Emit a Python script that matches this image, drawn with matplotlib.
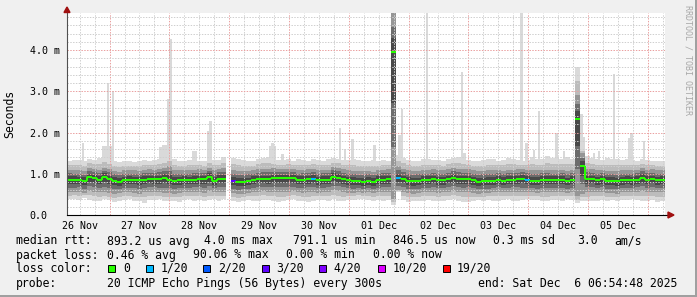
import numpy as np
import matplotlib
matplotlib.use('Agg')
import matplotlib.pyplot as plt
from matplotlib.patches import Polygon, Rectangle
from datetime import datetime, timedelta

# ---------------- data (2 hour bins, ms) ----------------
nan = np.nan
start = datetime(2025, 11, 26, 6, 54, 48)
day_labels = ['26 Nov', '27 Nov', '28 Nov', '29 Nov', '30 Nov',
              '01 Dec', '02 Dec', '03 Dec', '04 Dec', '05 Dec']

median_ms = [
    0.86, 0.85, 0.85, 0.83, 0.92, 0.90, 0.85, 0.93, 0.87, 0.83, 0.80, 0.85,
    0.85, 0.85, 0.85, 0.86, 0.87, 0.87, 0.87, 0.90, 0.86, 0.83, 0.84, 0.85,
    0.85, 0.86, 0.87, 0.87, 0.93, 0.83, 0.88, 0.88, nan, 0.83, 0.81, 0.81,
    0.82, 0.85, 0.87, 0.87, 0.87, 0.89, 0.89, 0.89, 0.89, 0.89, 0.85, 0.86,
    0.87, 0.88, 0.84, 0.86, 0.86, 0.93, 0.90, 0.87, 0.84, 0.83, 0.82, 0.81,
    0.83, 0.81, 0.85, 0.86, 0.87, 3.95, 0.90, 0.87, 0.83, 0.82, 0.82, 0.85,
    0.85, 0.87, 0.84, 0.84, 0.87, 0.90, 0.87, 0.87, 0.87, 0.84, 0.81, 0.82,
    0.83, 0.83, 0.86, 0.83, 0.86, 0.86, 0.87, 0.88, 0.86, 0.83, 0.83, 0.86,
    0.85, 0.85, 0.85, 0.86, 0.82, 0.86, 2.32, 1.19, 0.87, 0.87, 0.84, 0.87,
    0.83, 0.83, 0.82, 0.84, 0.85, 0.84, 0.86, 0.90, 0.86, 0.87, 0.84, 0.85]

loss = [0] * 120
loss[33] = 3
loss[49] = 1
loss[66] = 1
loss[92] = 1

smoke_lo = [
    0.38, 0.40, 0.36, 0.42, 0.37, 0.35, 0.33, 0.38, 0.36, 0.31, 0.34, 0.36,
    0.38, 0.35, 0.33, 0.30, 0.36, 0.37, 0.39, 0.33, 0.35, 0.34, 0.32, 0.36,
    0.38, 0.35, 0.37, 0.34, 0.36, 0.39, 0.35, 0.38, nan, 0.33, 0.31, 0.34,
    0.36, 0.35, 0.33, 0.37, 0.36, 0.34, 0.31, 0.33, 0.36, 0.38, 0.35, 0.33,
    0.32, 0.35, 0.37, 0.36, 0.34, 0.38, 0.35, 0.33, 0.36, 0.37, 0.40, 0.38,
    0.36, 0.34, 0.37, 0.35, 0.36, 0.25, 0.55, 0.37, 0.32, 0.33, 0.33, 0.35,
    0.36, 0.34, 0.33, 0.35, 0.37, 0.38, 0.35, 0.32, 0.32, 0.34, 0.36, 0.35,
    0.37, 0.35, 0.33, 0.36, 0.38, 0.35, 0.34, 0.36, 0.38, 0.37, 0.36, 0.33,
    0.34, 0.36, 0.37, 0.35, 0.38, 0.37, 0.30, 0.35, 0.33, 0.34, 0.35, 0.37,
    0.34, 0.36, 0.35, 0.36, 0.37, 0.38, 0.36, 0.35, 0.34, 0.36, 0.31, 0.33]

smoke_hi = [
    1.32, 1.34, 1.33, 1.30, 1.36, 1.34, 1.38, 1.40, 1.37, 1.30, 1.28, 1.30,
    1.31, 1.29, 1.30, 1.33, 1.32, 1.34, 1.36, 1.38, 1.45, 1.35, 1.32, 1.30,
    1.33, 1.35, 1.31, 1.30, 1.36, 1.34, 1.33, 1.40, nan, 1.38, 1.35, 1.33,
    1.32, 1.30, 1.36, 1.38, 1.40, 1.36, 1.33, 1.34, 1.36, 1.32, 1.35, 1.33,
    1.31, 1.37, 1.34, 1.32, 1.35, 1.38, 1.36, 1.34, 1.33, 1.35, 1.34, 1.32,
    1.31, 1.33, 1.30, 1.34, 1.32, 4.90, 1.45, 1.38, 1.33, 1.30, 1.32, 1.35,
    1.36, 1.33, 1.34, 1.30, 1.35, 1.38, 1.40, 1.36, 1.34, 1.32, 1.30, 1.33,
    1.35, 1.36, 1.32, 1.34, 1.38, 1.36, 1.33, 1.30, 1.34, 1.40, 1.36, 1.35,
    1.42, 1.38, 1.37, 1.36, 1.40, 1.36, 3.60, 1.60, 1.42, 1.38, 1.36, 1.34,
    1.38, 1.36, 1.35, 1.33, 1.36, 1.34, 1.32, 1.35, 1.33, 1.31, 1.30, 1.30]

mid_lo = [
    0.56, 0.55, 0.57, 0.54, 0.58, 0.57, 0.55, 0.56, 0.53, 0.52, 0.54, 0.55,
    0.56, 0.54, 0.52, 0.55, 0.57, 0.56, 0.55, 0.53, 0.54, 0.52, 0.54, 0.56,
    0.55, 0.57, 0.56, 0.54, 0.58, 0.55, 0.57, 0.56, nan, 0.53, 0.51, 0.52,
    0.54, 0.56, 0.57, 0.58, 0.56, 0.57, 0.55, 0.56, 0.57, 0.58, 0.55, 0.54,
    0.56, 0.57, 0.54, 0.55, 0.57, 0.60, 0.58, 0.56, 0.54, 0.53, 0.55, 0.54,
    0.55, 0.53, 0.56, 0.57, 0.56, 0.40, 0.60, 0.57, 0.54, 0.52, 0.53, 0.55,
    0.56, 0.57, 0.54, 0.55, 0.57, 0.58, 0.56, 0.55, 0.56, 0.54, 0.52, 0.53,
    0.54, 0.55, 0.57, 0.55, 0.56, 0.57, 0.56, 0.55, 0.56, 0.55, 0.54, 0.56,
    0.55, 0.56, 0.55, 0.56, 0.53, 0.55, 0.45, 0.50, 0.56, 0.57, 0.55, 0.56,
    0.54, 0.53, 0.52, 0.55, 0.56, 0.55, 0.57, 0.58, 0.56, 0.57, 0.55, 0.55]

mid_hi = [
    1.10, 1.09, 1.08, 1.06, 1.14, 1.12, 1.10, 1.15, 1.12, 1.07, 1.05, 1.08,
    1.09, 1.08, 1.07, 1.10, 1.11, 1.10, 1.12, 1.14, 1.18, 1.10, 1.08, 1.09,
    1.08, 1.10, 1.11, 1.10, 1.15, 1.08, 1.12, 1.13, nan, 1.10, 1.07, 1.06,
    1.07, 1.09, 1.11, 1.12, 1.12, 1.13, 1.12, 1.11, 1.12, 1.12, 1.09, 1.10,
    1.11, 1.12, 1.08, 1.10, 1.10, 1.16, 1.14, 1.11, 1.08, 1.07, 1.06, 1.06,
    1.07, 1.05, 1.09, 1.10, 1.11, 4.90, 1.18, 1.12, 1.08, 1.06, 1.07, 1.09,
    1.09, 1.11, 1.08, 1.09, 1.11, 1.14, 1.12, 1.11, 1.11, 1.08, 1.06, 1.07,
    1.08, 1.08, 1.10, 1.07, 1.10, 1.10, 1.11, 1.12, 1.10, 1.08, 1.08, 1.10,
    1.10, 1.09, 1.09, 1.10, 1.07, 1.10, 2.90, 1.50, 1.12, 1.11, 1.08, 1.10,
    1.07, 1.07, 1.06, 1.08, 1.09, 1.08, 1.10, 1.14, 1.10, 1.11, 1.08, 1.09]

# single hour maxima sticking out of the smoke (hour index from start, ms)
spike_hour = [6, 14, 15, 16, 17, 18, 37, 38, 39, 40, 41, 50, 51, 56, 57,
              81, 82, 83, 86, 109, 111, 114, 123, 133, 134, 144, 158, 159,
              182, 184, 187, 189, 196, 199, 204, 205, 206, 207, 211, 213,
              219, 225, 226, 231]
spike_ms = [1.75, 1.67, 1.67, 3.20, 1.67, 3.00, 1.65, 1.70, 1.70, 2.82, 4.27, 1.55, 1.55, 2.04, 2.28,
            1.67, 1.75, 1.67, 1.48, 2.10, 1.60, 1.84, 1.70, 1.94, 2.57, 4.90, 3.47, 1.50,
            4.90, 1.75, 1.57, 2.52, 2.00, 1.55, 3.60, 3.27, 2.45, 1.90, 1.50, 1.55,
            3.42, 1.87, 2.00, 1.80]

loss_colors = {0: '#26ff00', 1: '#00b8ff', 2: '#0059ff', 3: '#5e00ff',
               4: '#7e00ff', 10: '#dd00ff', 19: '#ff0000'}
loss_labels = ['0', '1/20', '2/20', '3/20', '4/20', '10/20', '19/20']

# ---------------- figure ----------------
W, H = 697, 297
MONO = 'DejaVu Sans Mono'
plt.rcParams['font.family'] = MONO

def fx(x):
    return x / W

def fy(y):
    return 1 - y / H

fig = plt.figure(figsize=(W / 100, H / 100), dpi=100, facecolor='#f0f0f0')
ax = fig.add_axes([fx(67), fy(215), (665 - 67) / W, (215 - 13) / H])
ax.set_facecolor('white')
for s in ax.spines.values():
    s.set_visible(False)
ax.set_xlim(0, 240)
ax.set_ylim(0, 4.9)

med = np.array(median_ms)
slo, shi = np.array(smoke_lo), np.array(smoke_hi)
mlo, mhi = np.array(mid_lo), np.array(mid_hi)
t0 = np.arange(len(med)) * 2.0
ok = ~np.isnan(med)

# light spikes (max ping), standing on the smoke
sh = np.array(spike_hour)
base = mhi[sh // 2]
ax.bar(sh, np.array(spike_ms) - base, bottom=base, width=1, align='edge',
       color='#d9d9d9', linewidth=0, antialiased=False, zorder=1)

# smoke, outer to inner
levels = [
    (slo, shi, '#dadada'),
    ((slo + mlo) / 2, (shi + mhi) / 2, '#bcbcbc'),
    (mlo, mhi, '#969696'),
    (mlo + 0.35 * (med - mlo), mhi + 0.35 * (med - mhi), '#6c6c6c'),
    (mlo + 0.65 * (med - mlo), mhi + 0.65 * (med - mhi), '#484848'),
]
for lo, hi, c in levels:
    ax.bar(t0[ok], (hi - lo)[ok], bottom=lo[ok], width=2, align='edge',
           color=c, linewidth=0, antialiased=False, zorder=2)

# grid (dotted, drawn over the smoke)
first_midnight = (datetime(2025, 11, 27) - start).total_seconds() / 3600
for h in np.arange(first_midnight - 24, 240, 6):
    if h <= 0:
        continue
    major = abs((h - first_midnight) % 24) < 1e-6
    ax.axvline(h, color='#eaa0a0' if major else '#cfcfcf', lw=0.72,
               ls=(0, (1.4, 1.4)), zorder=3)
for v in np.arange(0.2, 4.85, 0.2):
    major = abs(v - round(v)) < 1e-6
    ax.axhline(v, color='#eaa0a0' if major else '#cfcfcf', lw=0.72,
               ls=(0, (1.4, 1.4)), zorder=3)

# median line coloured by loss
cols = [loss_colors[l] for l in loss]
ax.hlines(med[ok], t0[ok], t0[ok] + 2, colors=[c for c, k in zip(cols, ok) if k],
          lw=1.45, zorder=4)
for i in range(1, len(med)):
    if ok[i] and ok[i - 1] and abs(med[i] - med[i - 1]) < 0.5:
        ax.vlines(t0[i], med[i - 1], med[i], color=cols[i], lw=1.45, zorder=4)

# ticks
noon = [(datetime(2025, 11, 26, 12) + timedelta(days=d) - start).total_seconds() / 3600
        for d in range(len(day_labels))]
ax.set_xticks(noon)
ax.set_xticklabels(day_labels, fontsize=7.2, family=MONO)
ax.set_yticks([0, 1, 2, 3, 4])
ax.set_yticklabels(['0.0', '1.0 m', '2.0 m', '3.0 m', '4.0 m'], fontsize=7.2, family=MONO)
ax.tick_params(length=0)
ax.tick_params(axis='x', pad=4)
ax.tick_params(axis='y', pad=27)
for lab in ax.get_yticklabels():
    lab.set_horizontalalignment('left')

# axes lines and arrows
ax.plot([0, 0], [0, 1.01], transform=ax.transAxes, color='#505050', lw=0.8,
        clip_on=False, zorder=5)
ax.plot([0, 1.012], [0, 0], transform=ax.transAxes, color='black', lw=0.8,
        clip_on=False, zorder=5)
fig.add_artist(Polygon([(fx(64), fy(12.5)), (fx(70), fy(12.5)), (fx(67), fy(7))],
                       closed=True, color='#a01010', transform=fig.transFigure))
fig.add_artist(Polygon([(fx(668), fy(212)), (fx(668), fy(218)), (fx(674), fy(215))],
                       closed=True, color='#a01010', transform=fig.transFigure))

fig.text(fx(10), fy(114), 'Seconds', rotation=90, ha='center', va='center',
         fontsize=8.3, family=MONO)
fig.text(fx(688), fy(5), 'RRDTOOL / TOBI OETIKER', rotation=-90, ha='center',
         va='top', fontsize=6, family=MONO, color='#a8a8a8')

# legend block
FS = 8.3
rows = [
    (241, [('median rtt:', 16), ('893.2 us avg', 107.3), ('4.0 ms max', 204),
           ('791.1 us min', 293.3), ('846.5 us now', 393.3), ('0.3 ms sd', 493.3),
           ('3.0', 577.3), ('am/s', 614)]),
    (255, [('packet loss:', 16), ('0.46 % avg', 107.3), ('90.06 % max', 192.7),
           ('0.00 % min', 286), ('0.00 % now', 372.7)]),
    (268.3, [('loss color:', 16)]),
    (283.3, [('probe:', 16), ('20 ICMP Echo Pings (56 Bytes) every 300s', 107.3),
             ('end: Sat Dec  6 06:54:48 2025', 478.3)]),
]
for y, parts in rows:
    for s, x in parts:
        fig.text(fx(x), fy(y), s, ha='left', va='center', fontsize=FS, family=MONO)

sq_x = [108.3, 146, 203.3, 261.7, 319.3, 378.3, 442.7]
lab_x = [123.3, 160.7, 218.3, 276.7, 333.3, 392.7, 456.7]
for key, lab, sx, lx in zip(loss_colors, loss_labels, sq_x, lab_x):
    fig.add_artist(Rectangle((fx(sx), fy(272)), 7 / W, 7 / H, transform=fig.transFigure,
                             facecolor=loss_colors[key], edgecolor='black', lw=0.7))
    fig.text(fx(lx), fy(268.3), lab, ha='left', va='center', fontsize=FS, family=MONO)

# frame
fig.add_artist(Rectangle((0, 0), 1, 2 / H, transform=fig.transFigure,
                         facecolor='#a0a0a0', edgecolor='none'))
fig.add_artist(Rectangle((1 - 2 / W, 0), 2 / W, 1, transform=fig.transFigure,
                         facecolor='#a0a0a0', edgecolor='none'))

fig.savefig('out.png', dpi=100, facecolor=fig.get_facecolor())
